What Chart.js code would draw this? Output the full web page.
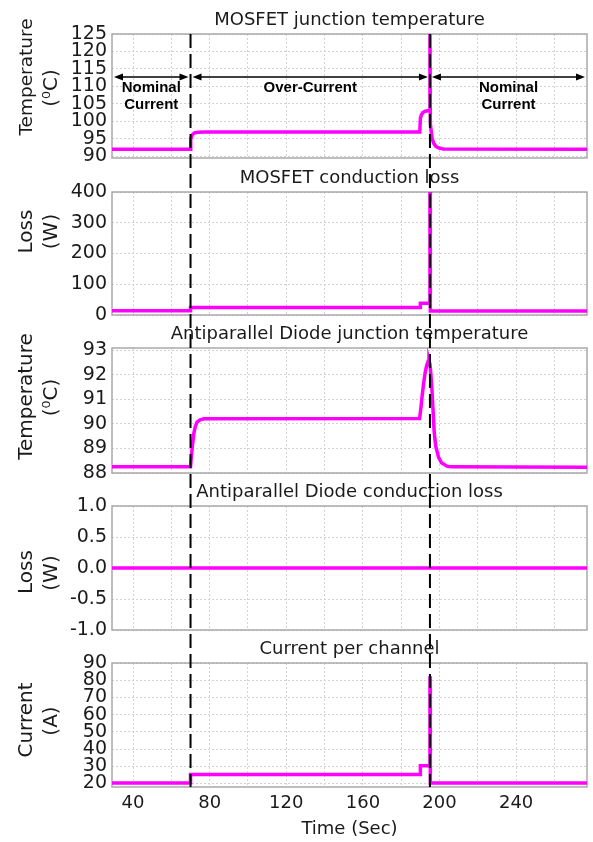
<!DOCTYPE html>
<html>
<head>
<meta charset="utf-8">
<script src="https://cdn.jsdelivr.net/npm/chart.js@4/dist/chart.umd.min.js"></script>
<style>
  body { margin: 0; background: #fff; }
  #wrap { position: relative; width: 593px; height: 842px; }
  #wrap canvas { position: absolute; left: 0; top: 0; }
</style>
</head>
<body>
<div id="wrap">
  <canvas id="c1" width="593" height="842"></canvas>
  <canvas id="c2" width="593" height="842"></canvas>
  <canvas id="c3" width="593" height="842"></canvas>
  <canvas id="c4" width="593" height="842"></canvas>
  <canvas id="c5" width="593" height="842"></canvas>
</div>
<script>
// switching instants (s) and the operating phase between them
const switchTimes = [70, 195];
const phaseLabels = [['Nominal', 'Current'], ['Over-Current'], ['Nominal', 'Current']];
const timeTicks = [40, 80, 120, 160, 200, 240];

// [time (s), value]
const mosfetTemp = [
  [29, 92.0], [70, 92.0], [70.1, 94.8], [70.6, 95.8], [71.3, 96.4], [72.3, 96.75],
  [74, 96.9], [77, 96.95], [189.7, 96.95], [190, 100.8], [190.5, 101.8], [191.3, 102.5],
  [192.5, 102.9], [194.8, 103.1], [195, 130], [195.2, 99.5], [195.6, 97.2], [196.2, 94.9],
  [197, 93.7], [198, 92.9], [199.5, 92.4], [202, 92.1], [277, 92.0]
];
const mosfetLoss = [
  [29, 14], [70, 14], [70, 24], [190, 24], [190, 38], [195, 38],
  [195, 420], [195.2, 420], [195.2, 13], [277, 13]
];
const diodeTemp = [
  [29, 88.25], [70, 88.25], [70.4, 88.65], [70.9, 89.05], [71.7, 89.6], [72.5, 89.9],
  [73.4, 90.08], [75, 90.17], [77, 90.21], [189.6, 90.22], [190.2, 90.6], [190.8, 91.05],
  [191.6, 91.6], [192.5, 92.1], [193.3, 92.4], [194, 92.55], [194.5, 92.6], [195, 92.45],
  [195.5, 92.0], [196, 91.45], [196.6, 90.6], [197.2, 89.7], [198, 89.1], [199.5, 88.64],
  [201, 88.42], [203.9, 88.28], [206, 88.25], [277, 88.23]
];
const diodeLoss = [[29, 0], [277, 0]];
const channelCurrent = [
  [29, 20.3], [70, 20.3], [70, 25.2], [190, 25.2], [190, 30.3], [195, 30.3],
  [195, 81.3], [195.2, 81.3], [195.2, 20.3], [277, 20.3]
];

const panels = [
  { id: 'c1', title: 'MOSFET junction temperature', yTitle: ['Temperature', '(\u2070C)'],
    data: mosfetTemp, min: 89.5, max: 125, step: 5, top: 34, bottom: 158,
    yShift: [-19, -8], yFont: [18.5, 20] },
  { id: 'c2', title: 'MOSFET conduction loss', yTitle: ['Loss', '(W)'],
    data: mosfetLoss, min: 0, max: 400, step: 100, top: 192, bottom: 315,
    yShift: [-22, -22], yFont: [20, 20] },
  { id: 'c3', title: 'Antiparallel Diode junction temperature', yTitle: ['Temperature', '(\u2070C)'],
    data: diodeTemp, min: 88, max: 93.1, step: 1, top: 348, bottom: 473,
    yShift: [-14, -13], yFont: [20, 20] },
  { id: 'c4', title: 'Antiparallel Diode conduction loss', yTitle: ['Loss', '(W)'],
    data: diodeLoss, min: -1, max: 1, step: 0.5, top: 506, bottom: 630,
    yShift: [4, 5], yFont: [20, 20], fixed: 1 },
  { id: 'c5', title: 'Current per channel', yTitle: ['Current', '(A)'],
    data: channelCurrent, min: 18, max: 90, step: 10, top: 663, bottom: 787,
    yShift: [-5, -4], yFont: [20, 20] }
];

Chart.defaults.font.family = '"DejaVu Sans", sans-serif';
Chart.defaults.color = '#1a1a1a';

const charts = [];

// frame, panel title and rotated axis title
const panelDecor = {
  id: 'panelDecor',
  beforeDatasetsDraw(chart) {
    const { ctx, chartArea: a } = chart;
    ctx.save();
    ctx.strokeStyle = '#a9a9a9';
    ctx.lineWidth = 1.5;
    ctx.strokeRect(a.left, a.top, a.width, a.height);
    ctx.restore();
  },
  afterDraw(chart, args, opts) {
    const { ctx, chartArea: a } = chart;
    ctx.save();
    ctx.fillStyle = '#1a1a1a';
    ctx.textAlign = 'center';
    ctx.textBaseline = 'middle';
    ctx.font = '18px "DejaVu Sans"';
    ctx.fillText(opts.title, (a.left + a.right) / 2, a.top - 14);
    const cy = (a.top + a.bottom) / 2;
    opts.yTitle.forEach((line, i) => {
      ctx.save();
      ctx.translate(a.left - 85 + i * 25, cy + opts.yShift[i]);
      ctx.rotate(-Math.PI / 2);
      ctx.font = opts.yFont[i] + 'px "DejaVu Sans"';
      ctx.fillText(line, 0, 0);
      ctx.restore();
    });
    ctx.restore();
  }
};

function arrowHead(ctx, x, y, dir) {
  ctx.beginPath();
  ctx.moveTo(x, y);
  ctx.lineTo(x + dir * 9, y - 3.5);
  ctx.lineTo(x + dir * 9, y + 3.5);
  ctx.closePath();
  ctx.fill();
}

// double arrows marking each operating phase on the top panel
const phaseArrows = {
  id: 'phaseArrows',
  afterDatasetsDraw(chart, args, opts) {
    const { ctx, scales: { x, y } } = chart;
    const bounds = [x.min, ...switchTimes, x.max];
    const yy = y.getPixelForValue(opts.level);
    ctx.save();
    ctx.strokeStyle = '#000';
    ctx.fillStyle = '#000';
    ctx.lineWidth = 1.5;
    ctx.textAlign = 'center';
    ctx.textBaseline = 'middle';
    ctx.font = 'bold 15px "Liberation Sans"';
    phaseLabels.forEach((lines, i) => {
      const x0 = x.getPixelForValue(bounds[i]) + 2;
      const x1 = x.getPixelForValue(bounds[i + 1]) - 2;
      ctx.beginPath();
      ctx.moveTo(x0 + 4, yy);
      ctx.lineTo(x1 - 4, yy);
      ctx.stroke();
      arrowHead(ctx, x0, yy, 1);
      arrowHead(ctx, x1, yy, -1);
      lines.forEach((t, k) => ctx.fillText(t, (x0 + x1) / 2, yy + 11 + k * 17));
    });
    ctx.restore();
  }
};

// dashed switching markers running through all panels
const switchLines = {
  id: 'switchLines',
  afterDraw(chart) {
    const { ctx, scales: { x } } = chart;
    const top = charts[0].chartArea.top;
    const bottom = chart.chartArea.bottom;
    ctx.save();
    ctx.strokeStyle = '#000';
    ctx.lineWidth = 2;
    ctx.setLineDash([14, 6]);
    switchTimes.forEach(t => {
      const px = x.getPixelForValue(t);
      ctx.beginPath();
      ctx.moveTo(px, top);
      ctx.lineTo(px, bottom);
      ctx.stroke();
    });
    ctx.restore();
  }
};

panels.forEach((p, idx) => {
  const isLast = idx === panels.length - 1;
  const plugins = [panelDecor];
  if (idx === 0) plugins.push(phaseArrows);
  if (isLast) plugins.push(switchLines);

  const chart = new Chart(document.getElementById(p.id), {
    type: 'line',
    data: {
      datasets: [{
        data: p.data.map(([t, v]) => ({ x: t, y: v })),
        borderColor: '#ff00ff',
        borderWidth: 3.5,
        pointRadius: 0,
        tension: 0,
        fill: false
      }]
    },
    options: {
      responsive: false,
      animation: false,
      events: [],
      layout: { padding: { top: p.top, bottom: isLast ? 0 : 842 - p.bottom, left: 0, right: 6 } },
      plugins: {
        legend: { display: false },
        tooltip: { enabled: false },
        panelDecor: { title: p.title, yTitle: p.yTitle, yShift: p.yShift, yFont: p.yFont },
        phaseArrows: { level: 112.7 }
      },
      scales: {
        x: {
          type: 'linear',
          min: 29,
          max: 277,
          afterFit: s => { s.height = isLast ? 55 : 0; },
          ticks: {
            display: isLast,
            stepSize: 20,
            includeBounds: false,
            autoSkip: false,
            maxRotation: 0,
            padding: 6,
            font: { size: 18 },
            callback: v => timeTicks.includes(v) ? v : ''
          },
          grid: { color: '#d2d2d2', drawTicks: false },
          border: { display: false, dash: [2, 2] },
          title: { display: isLast, text: 'Time (Sec)', font: { size: 18 }, padding: { top: 0, bottom: 2 } }
        },
        y: {
          min: p.min,
          max: p.max,
          afterFit: s => { s.width = 112; },
          ticks: {
            stepSize: p.step,
            includeBounds: false,
            autoSkip: false,
            padding: 5,
            font: { size: 19 },
            callback: v => p.fixed ? v.toFixed(p.fixed) : v
          },
          grid: { color: '#d2d2d2', drawTicks: false },
          border: { display: false, dash: [2, 2] }
        }
      }
    },
    plugins: plugins
  });
  charts.push(chart);
});
</script>
</body>
</html>
